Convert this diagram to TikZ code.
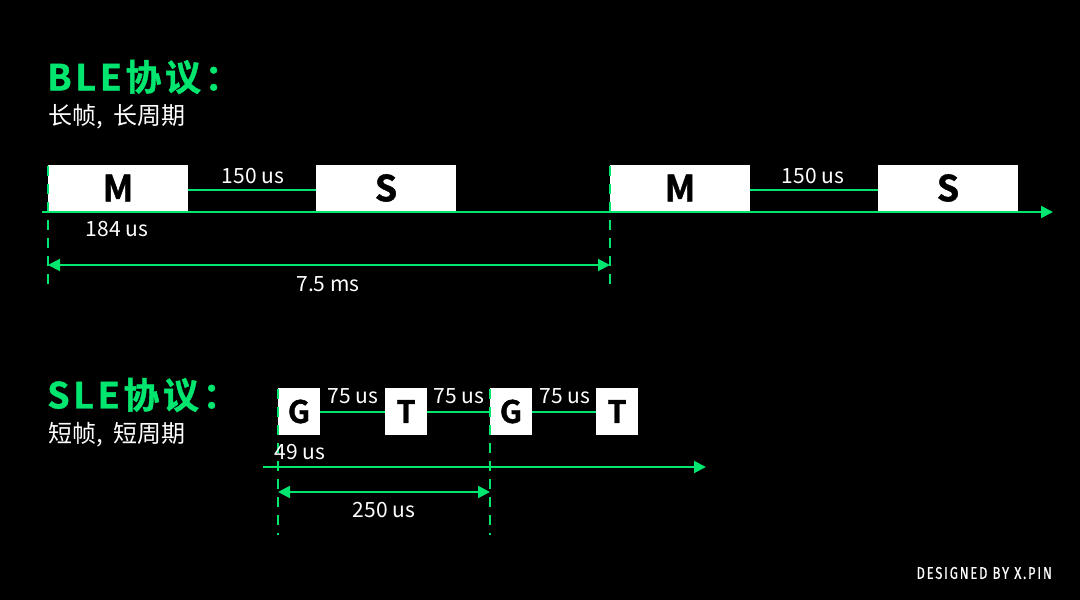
\documentclass[tikz,border=0pt]{standalone}
\usepackage{graphicx}
\usepackage{fontspec}
\setmainfont{Noto Sans CJK SC}[BoldFont={Noto Sans CJK SC Bold}]
\newfontfamily\sigfont{Fira Sans}[LetterSpace=14,FakeBold=0.6]
\usetikzlibrary{arrows.meta}
\definecolor{gr}{HTML}{00E66E}
\tikzset{
  gline/.style={draw=gr, line width=2pt},
  dline/.style={draw=gr, line width=1.6pt, dash pattern=on 10pt off 8pt},
  framebox/.style={fill=white, draw=none, inner sep=0pt, font=\bfseries\fontsize{36}{36}\selectfont\addfontfeature{FakeBold=1.2}, text=black},
  smallbox/.style={fill=white, draw=none, inner sep=0pt, minimum width=42pt, minimum height=47pt, font=\bfseries\fontsize{31}{31}\selectfont\addfontfeature{FakeBold=1.2}, text=black},
  lab/.style={text=white, font=\fontsize{21}{21}\selectfont, inner sep=0pt},
  title/.style={text=gr, anchor=west, inner sep=0pt, font=\bfseries\fontsize{36}{36}\selectfont\addfontfeature{LetterSpace=10,FakeBold=1.2}},
  sub/.style={text=white, anchor=west, inner sep=0pt, font=\fontsize{24}{24}\selectfont},
  arr/.style={-{Triangle[length=12pt,width=12pt]}},
  darr/.style={{Triangle[length=12pt,width=12pt]}-{Triangle[length=12pt,width=12pt]}}
}
\begin{document}
\begin{tikzpicture}[x=1pt,y=-1pt]
\fill[black] (0,0) rectangle (1080,600);
\useasboundingbox (0,0) rectangle (1080,600);

% ---------- BLE ----------
\node[title] (t1) at (47,77) {BLE协议：};
\node[sub] (s1t) at (48,117) {长帧,\hspace{11pt}长周期};

\node[framebox, minimum width=140pt, minimum height=46pt] (m1) at (118,188) {M};
\node[framebox, minimum width=140pt, minimum height=46pt] (s1) at (386,188) {S};
\node[framebox, minimum width=140pt, minimum height=46pt] (m2) at (680,188) {M};
\node[framebox, minimum width=140pt, minimum height=46pt] (s2) at (948,188) {S};

\draw[gline] ([yshift=-2pt]m1.east) -- ([yshift=-2pt]s1.west);
\draw[gline] ([yshift=-2pt]m2.east) -- ([yshift=-2pt]s2.west);

\node[lab] (l150a) at (253,176) {150 us};
\node[lab] (l150b) at (813,176) {150 us};

\coordinate (ax0) at (42,212);
\coordinate (ax1) at (1053,212);
\draw[gline, arr] (ax0) -- (ax1);

\coordinate (v1a) at (48,166);
\coordinate (v1b) at (48,291);
\coordinate (v2a) at (610,166);
\coordinate (v2b) at (610,291);
\draw[dline] (v1a) -- (v1b);
\draw[dline] (v2a) -- (v2b);

\node[lab] (l184) at (117,229) {184 us};

\coordinate (d1a) at (48,265);
\coordinate (d1b) at (610,265);
\draw[gline, darr] (d1a) -- (d1b);
\node[lab] (l75ms) at (328,284) {7.5 ms};

% ---------- SLE ----------
\node[title] (t2) at (47,395) {SLE协议：};
\node[sub] (s2t) at (48,435) {短帧,\hspace{11pt}短周期};

\node[smallbox] (g1) at (299,411.5) {G};
\node[smallbox] (tt1) at (406,411.5) {T};
\node[smallbox] (g2) at (511,411.5) {G};
\node[smallbox] (tt2) at (617,411.5) {T};

\draw[gline] (g1.east) -- (tt1.west);
\draw[gline] (tt1.east) -- (g2.west);
\draw[gline] (g2.east) -- (tt2.west);

\node[lab] (l75a) at (353,396) {75 us};
\node[lab] (l75b) at (459,396) {75 us};
\node[lab] (l75c) at (565,396) {75 us};

\coordinate (bx0) at (263,467);
\coordinate (bx1) at (706,467);
\draw[gline, arr] (bx0) -- (bx1);

\coordinate (w1a) at (278,389);
\coordinate (w1b) at (278,535);
\coordinate (w2a) at (490,389);
\coordinate (w2b) at (490,535);
\draw[dline] (w1a) -- (w1b);
\draw[dline] (w2a) -- (w2b);

\node[lab] (l49) at (300,452) {49 us};

\coordinate (e1a) at (278,492);
\coordinate (e1b) at (490,492);
\draw[gline, darr] (e1a) -- (e1b);
\node[lab] (l250) at (384,510) {250 us};

% ---------- signature ----------
\node[text=white, anchor=east, inner sep=0pt] (sig) at (1052,573) {\scalebox{0.76}[1]{\sigfont\fontsize{17}{17}\selectfont DESIGNED BY X.PIN}};
\end{tikzpicture}
\end{document}
